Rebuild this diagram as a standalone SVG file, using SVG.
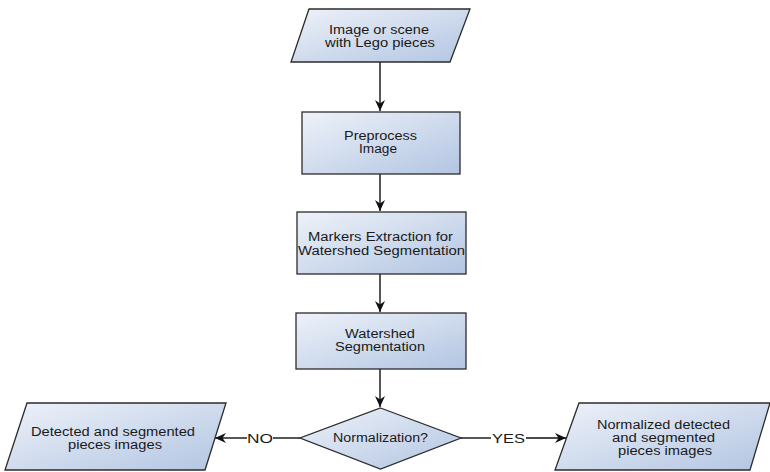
<svg xmlns="http://www.w3.org/2000/svg" width="770" height="472" viewBox="0 0 770 472">
<defs>
<linearGradient id="fill" x1="0" y1="0" x2="1" y2="1">
<stop offset="0" stop-color="#eef2f9"/>
<stop offset="1" stop-color="#b2c5e2"/>
</linearGradient>
<marker id="arr" markerWidth="12" markerHeight="10" refX="11" refY="5" orient="auto" markerUnits="userSpaceOnUse">
<path d="M0,0 L11,5 L0,10 L3.5,5 Z" fill="#111"/>
</marker>
<style>
.shape{fill:url(#fill);stroke:#2b2b2b;stroke-width:1.3}
.t{font-family:"Liberation Sans",Arial,sans-serif;font-size:12px;fill:#1a1a1a;text-anchor:middle}
.lbl{font-family:"Liberation Sans",Arial,sans-serif;font-size:13px;fill:#1a1a1a;text-anchor:middle}
.c{stroke:#111;stroke-width:1.4;fill:none}
</style>
</defs>
<g id="connectors">
<line class="c" x1="380" y1="62" x2="380" y2="111" marker-end="url(#arr)"/>
<line class="c" x1="380" y1="174" x2="380" y2="211" marker-end="url(#arr)"/>
<line class="c" x1="380" y1="274" x2="380" y2="312" marker-end="url(#arr)"/>
<line class="c" x1="380" y1="369" x2="380" y2="407" marker-end="url(#arr)"/>
<line class="c" x1="300" y1="438" x2="273" y2="438"/>
<line class="c" x1="247" y1="438" x2="215" y2="438" marker-end="url(#arr)"/>
<text class="lbl" x="260" y="443" textLength="26" lengthAdjust="spacingAndGlyphs">NO</text>
<line class="c" x1="461" y1="438" x2="491" y2="438"/>
<line class="c" x1="526" y1="438" x2="566" y2="438" marker-end="url(#arr)"/>
<text class="lbl" x="508.5" y="443" textLength="33" lengthAdjust="spacingAndGlyphs">YES</text>
</g>
<g id="input">
<polygon class="shape" points="309,9 470,9 450,62 291,62"/>
<text class="t" x="379" y="34" textLength="100" lengthAdjust="spacingAndGlyphs">Image or scene</text>
<text class="t" x="380" y="47" textLength="110" lengthAdjust="spacingAndGlyphs">with Lego pieces</text>
</g>
<g id="preprocess">
<rect class="shape" x="302" y="112" width="158" height="62"/>
<text class="t" x="380.5" y="140" textLength="73" lengthAdjust="spacingAndGlyphs">Preprocess</text>
<text class="t" x="378" y="153" textLength="38" lengthAdjust="spacingAndGlyphs">Image</text>
</g>
<g id="markers">
<rect class="shape" x="297" y="212" width="169" height="62"/>
<text class="t" x="380.5" y="241" textLength="145" lengthAdjust="spacingAndGlyphs">Markers Extraction for</text>
<text class="t" x="381.5" y="255" textLength="167" lengthAdjust="spacingAndGlyphs">Watershed Segmentation</text>
</g>
<g id="watershed">
<rect class="shape" x="296" y="313" width="170" height="56"/>
<text class="t" x="380" y="338" textLength="70" lengthAdjust="spacingAndGlyphs">Watershed</text>
<text class="t" x="380" y="351" textLength="90" lengthAdjust="spacingAndGlyphs">Segmentation</text>
</g>
<g id="decision">
<polygon class="shape" points="380.5,408 461,438 380.5,469 300,438"/>
<text class="t" x="380.5" y="442" textLength="95" lengthAdjust="spacingAndGlyphs">Normalization?</text>
</g>
<g id="output-no">
<polygon class="shape" points="27,403 226,403 205,470 5,470"/>
<text class="t" x="113" y="436" textLength="164" lengthAdjust="spacingAndGlyphs">Detected and segmented</text>
<text class="t" x="115" y="449" textLength="94" lengthAdjust="spacingAndGlyphs">pieces images</text>
</g>
<g id="output-yes">
<polygon class="shape" points="579,403 770,403 750,470 555,470"/>
<text class="t" x="663.5" y="429" textLength="133" lengthAdjust="spacingAndGlyphs">Normalized detected</text>
<text class="t" x="663.5" y="442" textLength="103" lengthAdjust="spacingAndGlyphs">and segmented</text>
<text class="t" x="665" y="455" textLength="94" lengthAdjust="spacingAndGlyphs">pieces images</text>
</g>
</svg>
